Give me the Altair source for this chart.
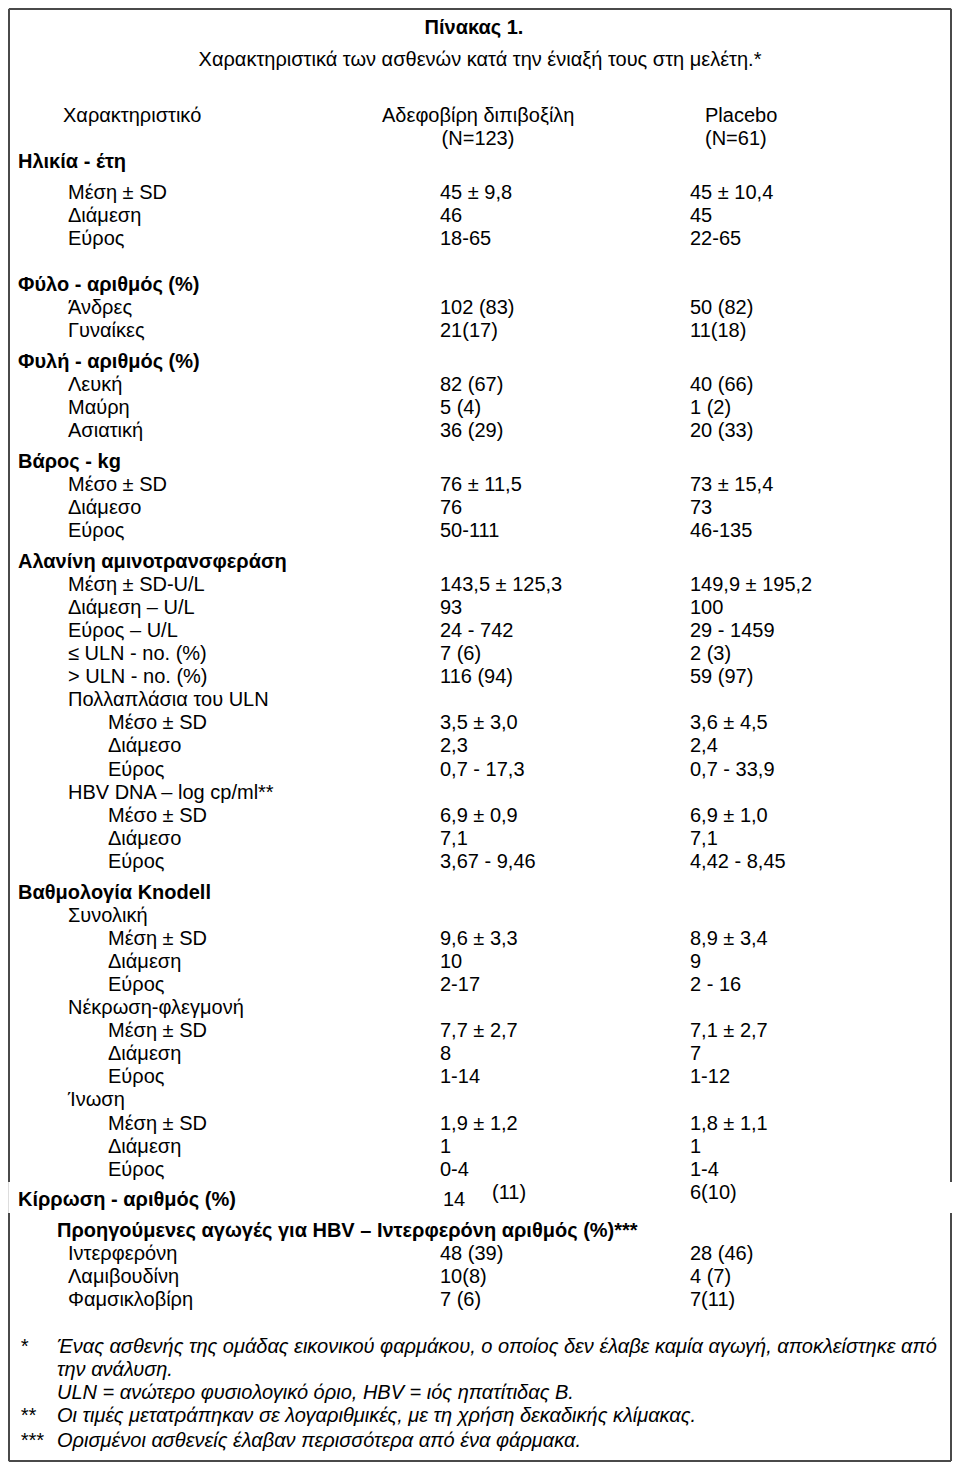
import altair as alt
import pandas as pd

# ---------------- data ----------------
title_text = "Πίνακας 1."
subtitle_text = "Χαρακτηριστικά των ασθενών κατά την ένιαξή τους στη μελέτη.*"
header_label = "Χαρακτηριστικό"
group_names = ["Αδεφοβίρη διπιβοξίλη", "Placebo"]
group_sizes = ["(N=123)", "(N=61)"]

row_labels = [
    "Ηλικία - έτη", "Μέση ± SD", "Διάμεση", "Εύρος",
    "Φύλο - αριθμός (%)", "Άνδρες", "Γυναίκες",
    "Φυλή - αριθμός (%)", "Λευκή", "Μαύρη", "Ασιατική",
    "Βάρος - kg", "Μέσο ± SD", "Διάμεσο", "Εύρος",
    "Αλανίνη αμινοτρανσφεράση", "Μέση ± SD-U/L", "Διάμεση – U/L", "Εύρος – U/L",
    "≤ ULN - no. (%)", "> ULN - no. (%)", "Πολλαπλάσια του ULN",
    "Μέσο ± SD", "Διάμεσο", "Εύρος",
    "HBV DNA – log cp/ml**", "Μέσο ± SD", "Διάμεσο", "Εύρος",
    "Βαθμολογία Knodell", "Συνολική", "Μέση ± SD", "Διάμεση", "Εύρος",
    "Νέκρωση-φλεγμονή", "Μέση ± SD", "Διάμεση", "Εύρος",
    "Ίνωση", "Μέση ± SD", "Διάμεση", "Εύρος",
    "Κίρρωση - αριθμός (%)",
    "Προηγούμενες αγωγές για HBV – Ιντερφερόνη αριθμός (%)***",
    "Ιντερφερόνη", "Λαμιβουδίνη", "Φαμσικλοβίρη",
]
row_levels = [
    0, 1, 1, 1,
    0, 1, 1,
    0, 1, 1, 1,
    0, 1, 1, 1,
    0, 1, 1, 1,
    1, 1, 1,
    2, 2, 2,
    1, 2, 2, 2,
    0, 1, 2, 2, 2,
    1, 2, 2, 2,
    1, 2, 2, 2,
    0,
    3,
    1, 1, 1,
]
adefovir = [
    "", "45 ± 9,8", "46", "18-65",
    "", "102 (83)", "21(17)",
    "", "82 (67)", "5 (4)", "36 (29)",
    "", "76 ± 11,5", "76", "50-111",
    "", "143,5 ± 125,3", "93", "24 - 742",
    "7 (6)", "116 (94)", "",
    "3,5 ± 3,0", "2,3", "0,7 - 17,3",
    "", "6,9 ± 0,9", "7,1", "3,67 - 9,46",
    "", "", "9,6 ± 3,3", "10", "2-17",
    "", "7,7 ± 2,7", "8", "1-14",
    "", "1,9 ± 1,2", "1", "0-4",
    "14 (11)",
    "",
    "48 (39)", "10(8)", "7 (6)",
]
placebo = [
    "", "45 ± 10,4", "45", "22-65",
    "", "50 (82)", "11(18)",
    "", "40 (66)", "1 (2)", "20 (33)",
    "", "73 ± 15,4", "73", "46-135",
    "", "149,9 ± 195,2", "100", "29 - 1459",
    "2 (3)", "59 (97)", "",
    "3,6 ± 4,5", "2,4", "0,7 - 33,9",
    "", "6,9 ± 1,0", "7,1", "4,42 - 8,45",
    "", "", "8,9 ± 3,4", "9", "2 - 16",
    "", "7,1 ± 2,7", "7", "1-12",
    "", "1,8 ± 1,1", "1", "1-4",
    "6(10)",
    "",
    "28 (46)", "4 (7)", "7(11)",
]
footnote_marks = ["*", "", "", "**", "***"]
footnote_lines = [
    "Ένας ασθενής της ομάδας εικονικού φαρμάκου, ο οποίος δεν έλαβε καμία αγωγή, αποκλείστηκε από",
    "την ανάλυση.",
    "ULN = ανώτερο φυσιολογικό όριο, HBV = ιός ηπατίτιδας Β.",
    "Οι τιμές μετατράπηκαν σε λογαριθμικές, με τη χρήση δεκαδικής κλίμακας.",
    "Ορισμένοι ασθενείς έλαβαν περισσότερα από ένα φάρμακα.",
]

# ---------------- layout (page coordinates) ----------------
FONT = "Liberation Sans"
FS = 20
level_x = {0: 18, 1: 68, 2: 108, 3: 57}
COL1_X, COL2_X = 440, 690
HEAD1_X, HEAD2_X = 382, 705
Y0, PITCH, GAP = 162, 23.1, 7.5
# section breaks: extra gap before these rows; blank line before row 4
breaks_before = {1, 7, 11, 15, 29, 42, 43}
blank_before = {4}

recs = []  # x, y, text, style, align


def add(x, y, text, style="normal", align="left"):
    recs.append(dict(x=x, y=y, text=text, style=style, align=align))


add(474, 28, title_text, "bold", "center")
add(480, 60, subtitle_text, "normal", "center")
add(63, 116, header_label)
add(HEAD1_X, 116, group_names[0])
add(HEAD1_X + 96, 139, group_sizes[0], "normal", "center")
add(HEAD2_X, 116, group_names[1])
add(HEAD2_X, 139, group_sizes[1])

slot = 0
nbreak = 0
for i, (lab, lev, a, p) in enumerate(zip(row_labels, row_levels, adefovir, placebo)):
    if i in blank_before:
        slot += 1
    if i in breaks_before:
        nbreak += 1
    y = Y0 + PITCH * slot + GAP * nbreak
    slot += 1
    add(level_x[lev], y, lab, "bold" if lev in (0, 3) else "normal")
    if lab.startswith("Κίρρωση"):
        n, pct = a.split(" ")
        add(COL1_X + 3, y, n)
        add(COL1_X + 52, y - 7, pct)
        add(COL2_X, y - 7, p)
    else:
        if a:
            add(COL1_X, y, a)
        if p:
            add(COL2_X, y, p)

FN_Y = [1347, 1370, 1393, 1416, 1441]
for m, t, y in zip(footnote_marks, footnote_lines, FN_Y):
    if m:
        add(20, y, m, "italic")
    add(57, y, t, "italic")

df = pd.DataFrame(recs)

W, H = 944, 1454
xs = alt.X("x:Q", scale=alt.Scale(domain=[8, 8 + W], nice=False, zero=False), axis=None)
ys = alt.Y("y:Q", scale=alt.Scale(domain=[8, 8 + H], nice=False, zero=False, reverse=True), axis=None)

base = alt.Chart(df)
layers = []
for style in ["normal", "bold", "italic"]:
    for align in ["left", "center"]:
        kw = dict(font=FONT, fontSize=FS, align=align, baseline="middle", color="#000000")
        if style == "bold":
            kw["fontWeight"] = "bold"
        if style == "italic":
            kw["fontStyle"] = "italic"
        layers.append(
            base.transform_filter(
                (alt.datum.style == style) & (alt.datum.align == align)
            ).mark_text(**kw).encode(x=xs, y=ys, text="text:N")
        )

# frame with a break at the cirrhosis row
border_color = "#4a4a4a"
bw = 2
frame = [
    alt.Chart(df).mark_rule(color=border_color, strokeWidth=bw).encode(
        x=alt.value(1), x2=alt.value(W - 1), y=alt.value(1)),
    alt.Chart(df).mark_rule(color=border_color, strokeWidth=bw).encode(
        x=alt.value(1), x2=alt.value(W - 1), y=alt.value(H - 1)),
    alt.Chart(df).mark_rule(color=border_color, strokeWidth=bw).encode(
        x=alt.value(1), y=alt.value(1), y2=alt.value(1182 - 8)),
    alt.Chart(df).mark_rule(color=border_color, strokeWidth=bw).encode(
        x=alt.value(1), y=alt.value(1213 - 8), y2=alt.value(H - 1)),
    alt.Chart(df).mark_rule(color=border_color, strokeWidth=bw).encode(
        x=alt.value(W - 1), y=alt.value(1), y2=alt.value(1182 - 8)),
    alt.Chart(df).mark_rule(color=border_color, strokeWidth=bw).encode(
        x=alt.value(W - 1), y=alt.value(1213 - 8), y2=alt.value(H - 1)),
]

chart = alt.layer(*frame, *layers).properties(
    width=W, height=H, padding=0, autosize=alt.AutoSizeParams(type="none")
).configure_view(stroke=None).configure(background="white")

chart.save("out.html", embed_options={"renderer": "svg", "actions": False})
